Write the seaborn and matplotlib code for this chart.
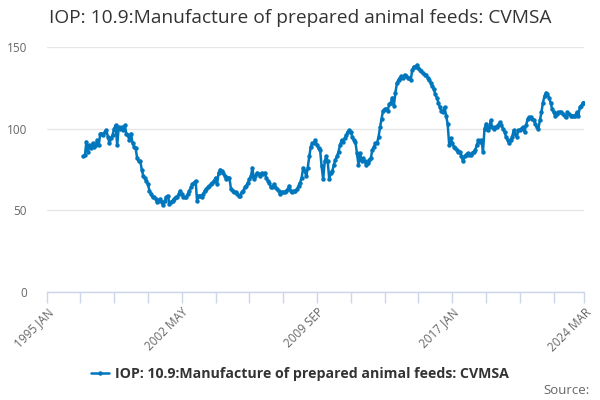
import pandas as pd
import numpy as np
import seaborn as sns
import matplotlib
matplotlib.use("Agg")
import matplotlib.pyplot as plt

# monthly index values, 1997 JAN .. 2024 MAR
v1997 = [83, 84, 92, 86, 90, 88, 91, 89, 90, 93, 90, 97]
v1998 = [97, 96, 98, 99, 95, 91, 94, 96, 100, 102, 90, 101]
v1999 = [100, 101, 99, 102, 97, 96, 93, 97, 91, 89, 88, 82]
v2000 = [80, 80, 75, 71, 70, 68, 66, 62, 60, 58, 58, 57]
v2001 = [55, 56, 57, 55, 53, 56, 58, 59, 54, 55, 56, 57]
v2002 = [58, 58, 60, 62, 60, 58, 58, 58, 60, 62, 64, 66]
v2003 = [67, 68, 56, 59, 59, 58, 60, 62, 63, 64, 65, 66]
v2004 = [67, 68, 70, 66, 73, 75, 74, 73, 71, 69, 70, 70]
v2005 = [63, 62, 61, 61, 60, 59, 59, 61, 62, 64, 65, 67]
v2006 = [69, 71, 76, 69, 71, 73, 72, 71, 73, 72, 73, 70]
v2007 = [68, 67, 64, 64, 66, 64, 63, 62, 60, 61, 61, 61]
v2008 = [62, 63, 65, 62, 61, 62, 62, 63, 65, 67, 70, 76]
v2009 = [74, 71, 76, 83, 89, 91, 91, 93, 90, 88, 87, 77]
v2010 = [69, 80, 83, 80, 69, 73, 74, 78, 81, 83, 86, 90]
v2011 = [93, 92, 94, 96, 98, 99, 98, 95, 93, 92, 85, 78]
v2012 = [85, 80, 82, 80, 78, 79, 81, 82, 87, 89, 91, 91]
v2013 = [95, 101, 106, 111, 112, 112, 111, 115, 116, 119, 114, 122]
v2014 = [128, 130, 131, 132, 131, 133, 132, 131, 131, 130, 136, 138]
v2015 = [138, 139, 137, 136, 135, 134, 133, 133, 131, 130, 128, 126]
v2016 = [124, 121, 119, 116, 113, 111, 110, 113, 108, 103, 90, 94]
v2017 = [91, 89, 88, 87, 86, 86, 83, 80, 83, 84, 85, 84]
v2018 = [84, 85, 86, 87, 90, 93, 92, 93, 86, 100, 103, 99]
v2019 = [101, 105, 101, 100, 101, 101, 102, 104, 102, 100, 98, 95]
v2020 = [93, 91, 93, 95, 99, 97, 95, 99, 99, 100, 101, 98]
v2021 = [102, 106, 107, 107, 106, 105, 103, 101, 100, 105, 110, 116]
v2022 = [120, 122, 121, 119, 116, 112, 110, 108, 109, 110, 110, 110]
v2023 = [109, 108, 107, 110, 109, 108, 108, 108, 108, 110, 108, 113]
v2024 = [114, 116, 116]

series_name = "IOP: 10.9:Manufacture of prepared animal feeds: CVMSA"
tick_labels = ["1995 JAN", "2002 MAY", "2009 SEP", "2017 JAN", "2024 MAR"]

values = (v1997 + v1998 + v1999 + v2000 + v2001 + v2002 + v2003 + v2004
          + v2005 + v2006 + v2007 + v2008 + v2009 + v2010 + v2011 + v2012
          + v2013 + v2014 + v2015 + v2016 + v2017 + v2018 + v2019 + v2020
          + v2021 + v2022 + v2023 + v2024)
dates = pd.date_range("1997-01-01", periods=len(values), freq="MS")
df = pd.DataFrame({"date": dates, "value": values, "series": series_name})

sns.set_theme(style="white")
plt.rcParams['font.family'] = ['Open Sans', 'DejaVu Sans']

blue = "#0076bd"
axis_col = "#ccd6eb"

fig = plt.figure(figsize=(6, 4), dpi=100)
ax = fig.add_axes([0.0775, 0.27, 0.8965, 0.6125])

sns.lineplot(data=df, x="date", y="value", hue="series", palette=[blue],
             marker="o", markersize=3.2, markeredgewidth=0, linewidth=1.8,
             ax=ax, legend=True)

ax.set_ylim(0, 150)
ax.set_yticks([0, 50, 100, 150])
ax.set_xlim(pd.Timestamp("1995-01-01"), pd.Timestamp("2024-03-01"))

# ticks every 22 months from the start, plus the end month
tick_dates = list(pd.date_range("1995-01-01", periods=16, freq="22MS"))
tick_dates.append(pd.Timestamp("2024-03-01"))
labels = []
k = 0
for i, d in enumerate(tick_dates):
    if i % 4 == 0 or i == len(tick_dates) - 1:
        labels.append(tick_labels[k])
        k += 1
    else:
        labels.append("")
ax.set_xticks(tick_dates)
ax.set_xticklabels(labels, rotation=45, ha="right", rotation_mode="anchor",
                   fontsize=8.5, color="#666666")
ax.tick_params(axis="x", length=8, width=1, color=axis_col, bottom=True, pad=2)
ax.tick_params(axis="y", length=0, labelsize=8.5, labelcolor="#666666", pad=14)

ax.grid(axis="y", color="#e6e6e6", linewidth=1)
ax.set_axisbelow(True)
for s in ["top", "right", "left"]:
    ax.spines[s].set_visible(False)
ax.spines["bottom"].set_color(axis_col)
ax.spines["bottom"].set_linewidth(1)
ax.set_xlabel("")
ax.set_ylabel("")

leg = ax.legend(loc="center", bbox_to_anchor=(0.5, 0.066),
                bbox_transform=fig.transFigure, frameon=False,
                handlelength=1.3, handletextpad=0.4,
                prop={"weight": "bold", "size": 10.2})
leg.get_texts()[0].set_color("#333333")

fig.text(0.082, 0.955, series_name, fontsize=13.8, color="#333333", va="center")
fig.text(0.982, 0.025, "Source:", fontsize=9.5, color="#666666",
         ha="right", va="center")

fig.savefig("out.png", dpi=100)
